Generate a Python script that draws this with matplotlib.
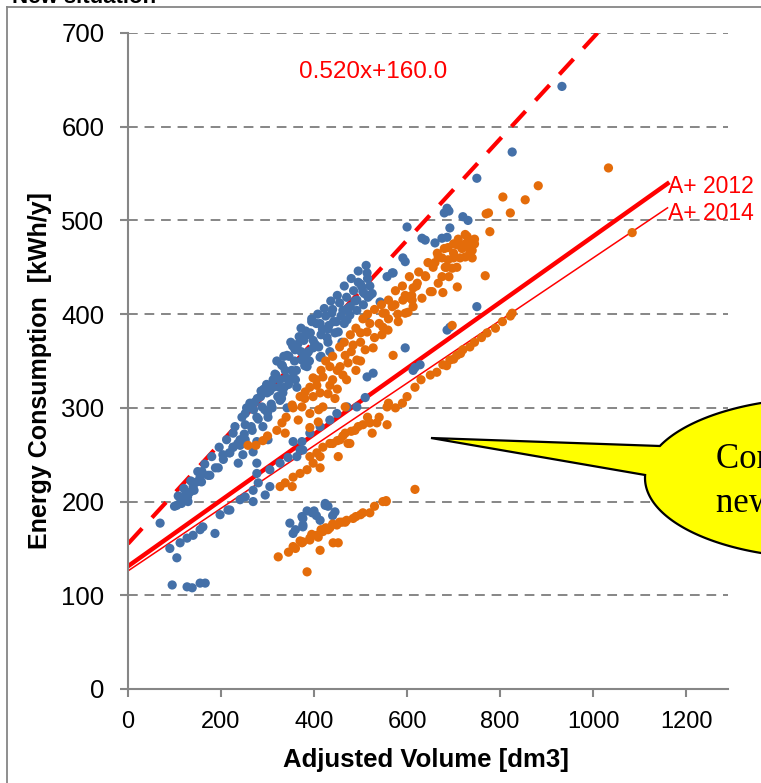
import numpy as np
import matplotlib
matplotlib.use("Agg")
import matplotlib.pyplot as plt
from matplotlib.patches import Polygon
from matplotlib.lines import Line2D

plt.rcParams['font.family'] = ['Liberation Sans', 'DejaVu Sans']

# ---------------- data ----------------
blue_x = [933, 826, 750, 686, 680, 690, 720, 731, 600, 639, 632, 660, 675, 686, 692, 591, 596,
          514, 495, 503, 525, 516, 568, 557, 542, 506, 492, 477, 438, 750, 570, 520, 471, 510,
          413, 452, 385, 428, 359, 398, 460, 374, 413, 434, 338, 385, 355, 327, 363, 312, 333,
          299, 327, 288, 310, 252, 342, 277, 301, 252, 290, 267, 226, 241, 277, 301, 226, 269, 247,
          471, 492, 510, 449, 434, 413, 391, 374, 355, 376, 363, 514, 527, 596, 613, 628, 686, 692, 617,
          69, 90, 105, 95, 127, 138, 155, 166, 112, 127, 140, 155, 161, 187, 198, 215, 105, 112, 123,
          133, 140, 148, 155, 159, 176, 129, 194, 204, 219, 226, 237, 241, 252, 277, 277, 280, 269,
          252, 241, 269, 295, 219, 305, 305, 327, 344, 370,
          348, 355, 374, 396, 413, 424, 376, 424, 445, 376, 376, 400, 360, 385, 405, 430, 440,
          255, 262, 270, 278, 285, 292, 298, 305, 312, 318, 325, 332, 340, 346, 352, 358, 365, 372,
          378, 385, 392, 398, 405, 410, 418, 425, 432, 440, 448, 455, 462, 470, 478, 485, 492, 500,
          508, 515, 390, 380, 345, 360, 330, 300, 430, 445, 465, 415, 395, 372, 350, 335, 320,
          100, 108, 115, 120, 128, 135, 142, 150, 158, 165, 172, 180, 188, 196, 205, 212, 218, 230,
          236, 245, 250, 258, 265, 272, 280, 286, 294, 300, 308, 316, 322, 330, 336, 342, 348, 354,
          362, 368, 376, 382, 388, 395, 402, 408, 415, 422, 430, 436, 442, 450, 458, 465, 472, 480,
          488, 495, 505, 512, 520]
blue_y = [643, 573, 545, 513, 508, 510, 504, 500, 493, 479, 481, 476, 481, 482, 492, 460, 456,
          444, 434, 429, 422, 418, 444, 440, 413, 410, 404, 399, 401, 408, 444, 420, 394, 396,
          390, 381, 378, 375, 362, 364, 370, 351, 354, 360, 340, 344, 333, 330, 322, 322, 316,
          316, 308, 301, 300, 294, 300, 290, 290, 282, 280, 276, 273, 266, 264, 266, 258, 253, 250,
          301, 301, 311, 294, 287, 280, 273, 264, 264, 255, 248, 333, 337, 364, 340, 346, 383, 386, 343,
          177, 150, 140, 111, 109, 108, 113, 113, 156, 161, 164, 170, 173, 166, 186, 191, 196, 204, 207,
          210, 216, 221, 226, 232, 228, 200, 236, 250, 252, 258, 241, 260, 266, 241, 230, 220, 212,
          205, 202, 200, 207, 191, 216, 234, 241, 247, 255,
          177, 166, 184, 188, 180, 196, 173, 198, 189, 182, 175, 190, 170, 190, 185, 195, 185,
          300, 305, 298, 310, 312, 320, 325, 318, 330, 335, 322, 345, 332, 355, 340, 350, 368, 360,
          372, 358, 380, 372, 390, 365, 384, 398, 388, 405, 392, 412, 404, 418, 408, 425, 415, 432,
          422, 438, 350, 345, 325, 330, 310, 295, 370, 380, 390, 355, 395, 385, 370, 355, 350,
          195, 206, 198, 214, 205, 222, 212, 232, 221, 240, 228, 248, 236, 258, 245, 266, 252, 280,
          262, 290, 272, 300, 280, 306, 288, 318, 298, 324, 304, 336, 312, 346, 322, 356, 330, 366,
          340, 376, 352, 382, 360, 392, 368, 400, 378, 406, 384, 414, 392, 420, 398, 430, 406, 438,
          414, 446, 424, 452, 430]

orange_x = [1033, 882, 854, 806, 822, 775, 770, 778, 729, 718, 725, 735, 740, 688, 714, 700, 675,
            697, 685, 656, 639, 675, 667, 622, 613, 600, 632, 654, 677, 708, 768, 613, 596, 822,
            826, 772, 697, 735, 720, 707, 692, 677, 664, 617, 600, 1084, 707, 735, 725, 688, 667,
            707, 682, 650, 591, 568, 602, 548, 596, 611, 574, 553, 581, 548, 559, 546, 514, 484,
            510, 527, 570, 467, 492, 473, 456, 434, 419, 462, 398, 406, 434, 391, 381, 413, 370,
            398, 353, 374, 419, 391, 467, 366, 331, 409, 320, 391, 338, 258, 557, 560, 535, 557,
            520, 488, 525, 467, 456, 477, 434, 419, 406, 391, 327, 338, 353, 355, 370, 385, 398,
            413, 452, 473, 413, 323, 355, 385, 374, 391, 409, 413, 617, 548, 555, 520, 484, 467,
            449, 434, 419, 406, 391, 376, 441, 452, 430, 460, 500, 275, 290, 300, 340, 355, 380,
            440, 450, 480, 500, 540, 560, 580, 620, 640, 660, 700, 720, 745, 735, 690, 610, 530,
            500, 520, 430, 450, 470, 490, 500, 410, 445,
            405, 415, 425, 440, 455, 465, 478, 490, 505, 515, 530, 545, 560, 575, 590, 605, 625,
            645, 665, 680, 700, 710, 725, 745, 740,
            440, 450, 462, 480, 495, 505, 515, 540, 575, 590, 630, 650, 685, 700, 715, 745, 760,
            790, 805,
            395, 415, 425, 440, 455, 470, 490, 505, 530, 555, 360, 370, 345]
orange_y = [556, 537, 522, 525, 508, 508, 507, 488, 483, 470, 475, 479, 468, 471, 460, 460, 460,
            449, 450, 450, 441, 440, 433, 433, 428, 418, 417, 424, 423, 429, 441, 408, 401, 398,
            401, 380, 388, 365, 362, 356, 351, 346, 338, 322, 312, 487, 474, 466, 461, 458, 461,
            450, 450, 424, 415, 408, 402, 401, 420, 415, 410, 401, 392, 386, 383, 378, 381, 367,
            362, 364, 356, 356, 351, 348, 344, 344, 333, 335, 332, 324, 324, 322, 317, 316, 312,
            312, 303, 301, 301, 294, 301, 287, 284, 285, 276, 279, 273, 260, 301, 305, 284, 282,
            284, 276, 273, 273, 266, 262, 262, 258, 252, 248, 216, 220, 216, 226, 230, 234, 241,
            248, 248, 262, 236, 141, 152, 125, 156, 159, 162, 148, 213, 200, 200, 188, 182, 178,
            175, 172, 168, 164, 161, 157, 156, 156, 170, 178, 186, 260, 265, 270, 290, 300, 310,
            330, 340, 360, 370, 390, 395, 400, 430, 440, 455, 465, 472, 480, 470, 440, 420, 375,
            380, 390, 315, 320, 330, 340, 350, 298, 310,
            330, 340, 350, 355, 365, 370, 378, 385, 395, 400, 405, 410, 415, 425, 430, 440, 445,
            455, 465, 470, 475, 480, 485, 475, 460,
            262, 265, 270, 275, 280, 282, 290, 290, 300, 305, 330, 335, 345, 352, 358, 370, 375,
            385, 392,
            165, 170, 172, 176, 178, 180, 184, 188, 195, 201, 150, 158, 146]

# reference lines: slope, intercept, end of line (x)
dash_slope, dash_icpt = 0.540, 155.0
a2012_slope, a2012_icpt, a2012_end = 0.352, 131.0, 1160
a2014_slope, a2014_icpt, a2014_end = 0.334, 126.0, 1160

x_ticks = [0, 200, 400, 600, 800, 1000, 1200]
y_ticks = [0, 100, 200, 300, 400, 500, 600, 700]

# ---------------- figure ----------------
W, H = 761, 783
fig = plt.figure(figsize=(W / 100, H / 100), dpi=100)
ax = fig.add_axes([128 / W, (H - 689) / H, 600 / W, 656 / H])
ax.set_xlim(0, 1290)
ax.set_ylim(0, 700)

grey = '#868686'
for yv in y_ticks[1:]:
    ax.axhline(yv, color=grey, lw=1.4, ls=(0, (5, 3.5)), zorder=1)

xs = np.array([0, 1400])
ax.plot(xs, dash_slope * xs + dash_icpt, color='#FF0000', lw=3.0,
        ls=(0, (5, 3.5)), zorder=2, solid_capstyle='butt')
x12 = np.array([0, a2012_end])
ax.plot(x12, a2012_slope * x12 + a2012_icpt, color='#FF0000', lw=3.2, zorder=2)
x14 = np.array([0, a2014_end])
ax.plot(x14, a2014_slope * x14 + a2014_icpt, color='#FF0000', lw=1.1, zorder=2)

ax.scatter(blue_x, blue_y, s=44, color='#4470A8', edgecolors='none', zorder=3)
ax.scatter(orange_x, orange_y, s=44, color='#E46C0A', edgecolors='none', zorder=4)

ax.text(a2012_end + 2, a2012_slope * a2012_end + a2012_icpt - 3, 'A+ 2012', color='#FF0000',
        fontsize=16.5, ha='left', va='center', clip_on=False)
ax.text(a2014_end + 2, a2014_slope * a2014_end + a2014_icpt - 6, 'A+ 2014', color='#FF0000',
        fontsize=16.5, ha='left', va='center', clip_on=False)
ax.text(367, 658, '0.520x+160.0', color='#FF0000', fontsize=17.5, ha='left', va='center')

for s in ['top', 'right']:
    ax.spines[s].set_visible(False)
for s in ['left', 'bottom']:
    ax.spines[s].set_color(grey)
    ax.spines[s].set_linewidth(1.5)
ax.set_xticks(x_ticks)
ax.set_yticks(y_ticks)
ax.tick_params(axis='both', colors=grey, labelcolor='black',
               length=6, width=1.5, direction='out')
ax.tick_params(axis='y', pad=11, labelsize=18.5)
ax.tick_params(axis='x', pad=10, labelsize=17)

fig.text(426 / W, 1 - 760 / H, 'Adjusted Volume [dm3]', fontsize=18.5, fontweight='bold',
         ha='center', va='center')
fig.text(40 / W, 1 - 371 / H, 'Energy Consumption  [kWh/y]', fontsize=18, fontweight='bold',
         ha='center', va='center', rotation=90)

# title (cut off at the top) and outer frame
fig.text(12 / W, 1 - 3 / H, 'New situation', fontsize=16, fontweight='bold',
         ha='left', va='baseline')
fig.add_artist(Line2D([7 / W, 7 / W], [0, 1 - 7 / H], color=grey, lw=1.3,
                      transform=fig.transFigure))
fig.add_artist(Line2D([7 / W, 1], [1 - 7 / H, 1 - 7 / H], color=grey, lw=1.3,
                      transform=fig.transFigure))

# callout bubble (pixel geometry)
cx, cy, a, b = 823, 478, 178, 80
t1 = np.arctan2(-0.4, -0.9165)
t2 = np.arctan2(-3 / 80, -0.9993) + 2 * np.pi
ts = np.linspace(t1, t2, 300)
px = cx + a * np.cos(ts)
py = cy + b * np.sin(ts)
px = np.append(px, 431)
py = np.append(py, 438)
pts = np.column_stack([px / W, 1 - py / H])
fig.add_artist(Polygon(pts, closed=True, facecolor='#FFFF00', edgecolor='black', lw=1.6,
                       transform=fig.transFigure, zorder=5))
fig.text(716 / W, 1 - 468 / H, 'Consumption of', fontsize=25, family='Liberation Serif',
         ha='left', va='baseline', zorder=6)
fig.text(716 / W, 1 - 512 / H, 'new appliances', fontsize=25, family='Liberation Serif',
         ha='left', va='baseline', zorder=6)

fig.savefig('out.png', dpi=100)
